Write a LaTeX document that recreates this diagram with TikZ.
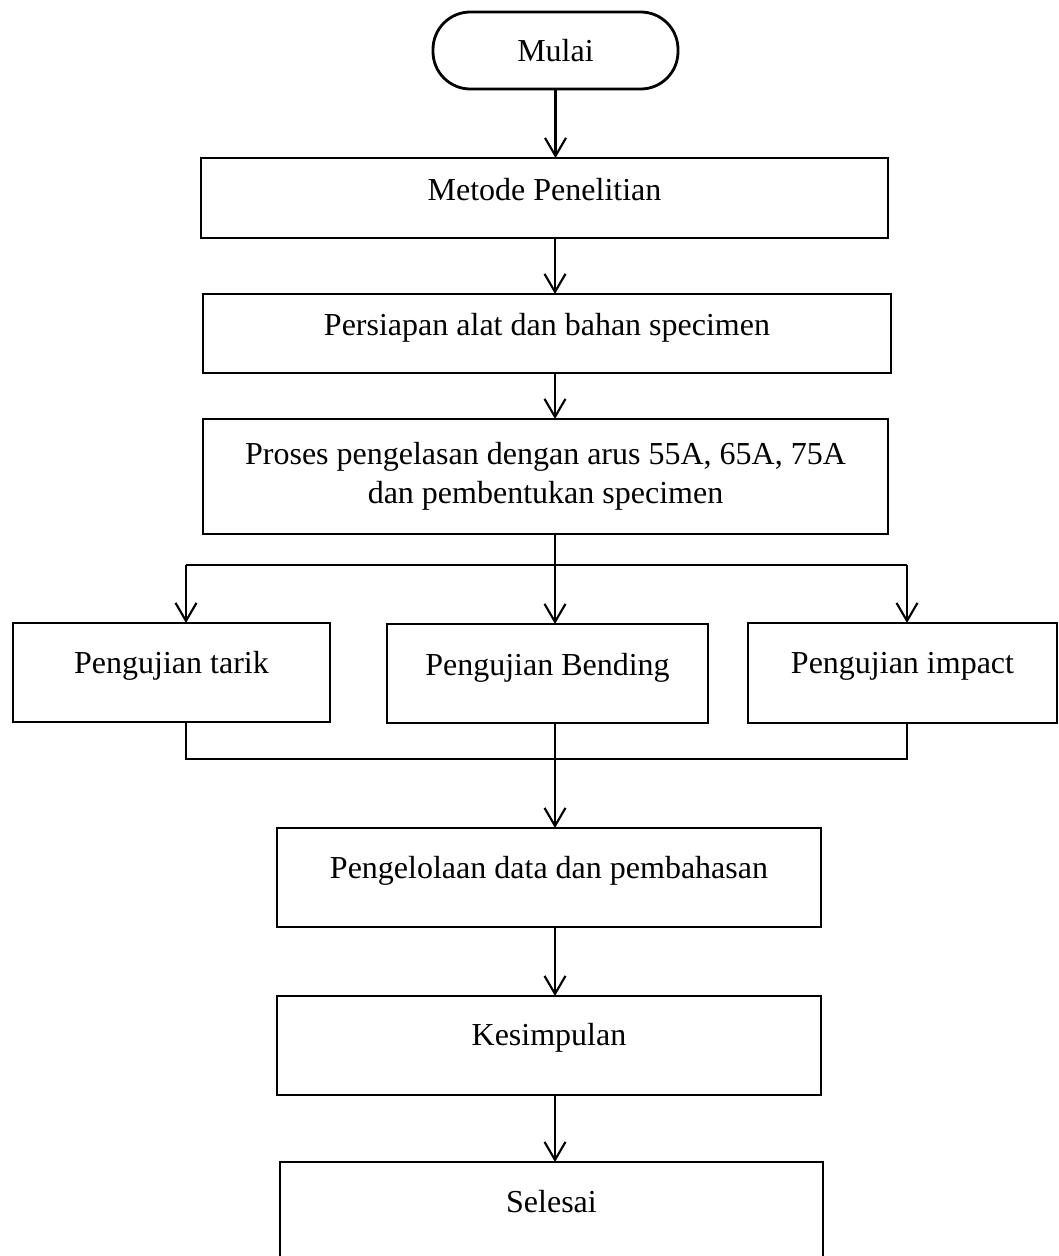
\documentclass[tikz,border=0pt]{standalone}
\usepackage{fontspec}
\setmainfont{Liberation Serif}
\usetikzlibrary{arrows.meta}
\begin{document}
\begin{tikzpicture}[x=0.75pt,y=-0.75pt,
  box/.style={draw, line width=2.1pt, inner sep=0pt, outer sep=0pt, anchor=north west,
    font=\fontsize{24}{29.25}\selectfont, align=center},
  term/.style={draw, line width=2.1pt, inner sep=0pt, outer sep=0pt, rounded corners=28pt,
    font=\fontsize{24}{29.25}\selectfont},
  arr/.style={line width=1.6pt, -{Straight Barb[length=13.5pt,width=15.75pt]}},
  thinline/.style={line width=0.8pt}
]
\useasboundingbox (0,0) rectangle (1059,1256);

\node[term, minimum width=183.75pt, minimum height=57.75pt] (mulai) at (555.5,50.5) {Mulai};

\node[box, minimum width=515.25pt, text height=31.5pt, text depth=28.5pt] (metode) at (201,158) {Metode Penelitian};
\node[box, minimum width=516pt, text height=30.75pt, text depth=28.5pt] (persiapan) at (203,294) {Persiapan alat dan bahan specimen};
\node[box, minimum width=513.75pt, minimum height=86.25pt] (proses) at (203,419) {Proses pengelasan dengan arus 55A, 65A, 75A\\dan pembentukan specimen};

\node[box, minimum width=237.75pt, text height=37.5pt, text depth=36.75pt] (tarik) at (13,623) {Pengujian tarik};
\node[box, minimum width=240.75pt, text height=38.25pt, text depth=36pt] (bending) at (387,624) {Pengujian Bending};
\node[box, minimum width=231.75pt, text height=37.5pt, text depth=37.5pt] (impact) at (748,623) {Pengujian impact};

\node[box, minimum width=408pt, text height=37.5pt, text depth=36.75pt] (pengelolaan) at (277,828) {Pengelolaan data dan pembahasan};
\node[box, minimum width=408pt, text height=36.75pt, text depth=37.5pt] (kesimpulan) at (277,996) {Kesimpulan};
\node[box, minimum width=407.25pt, text height=37.5pt, text depth=40.5pt] (selesai) at (280,1162) {Selesai};

\coordinate (ax) at (555,0);
\coordinate (sL) at (186,565);
\coordinate (sM) at (555,565);
\coordinate (sR) at (907,565);
\coordinate (mL) at (186,759);
\coordinate (mM) at (555,759);
\coordinate (mR) at (907,759);

\draw[arr] (mulai.south) -- (mulai.south |- metode.north);
\draw[arr] (metode.south -| ax) -- (persiapan.north -| ax);
\draw[arr] (persiapan.south -| ax) -- (proses.north -| ax);

\draw[thinline] (proses.south -| ax) -- (sM);
\draw[thinline] (sL) -- (sR);
\draw[arr] (sL) -- (sL |- tarik.north);
\draw[arr] (sM) -- (sM |- bending.north);
\draw[arr] (sR) -- (sR |- impact.north);

\draw[thinline] (tarik.south -| mL) -- (mL) -- (mR) -- (impact.south -| mR);
\draw[thinline] (bending.south -| mM) -- (mM);
\draw[arr] (mM) -- (pengelolaan.north -| mM);

\draw[arr] (pengelolaan.south -| ax) -- (kesimpulan.north -| ax);
\draw[arr] (kesimpulan.south -| ax) -- (selesai.north -| ax);
\end{tikzpicture}
\end{document}
